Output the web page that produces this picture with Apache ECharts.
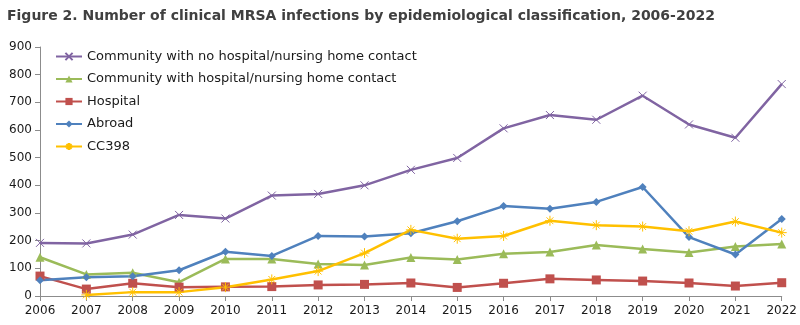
<!DOCTYPE html>
<html>
<head>
<meta charset="utf-8">
<script src="https://cdn.jsdelivr.net/npm/echarts@6/dist/echarts.min.js"></script>
<style>
  html, body { margin: 0; padding: 0; background: #fff; }
  #chart { width: 800px; height: 325px; }
</style>
</head>
<body>
<div id="chart"></div>
<script>
// Clinical MRSA infections per year, by epidemiological classification
const years = ['2006','2007','2008','2009','2010','2011','2012','2013','2014','2015','2016','2017','2018','2019','2020','2021','2022'];
const communityNoContact = [192, 190, 222, 293, 280, 363, 369, 400, 456, 499, 606, 654, 637, 724, 620, 572, 766];
const communityWithContact = [140, 78, 84, 50, 134, 134, 116, 112, 139, 132, 153, 159, 184, 170, 157, 179, 188];
const hospital = [72, 25, 46, 32, 33, 34, 40, 42, 47, 31, 46, 62, 58, 54, 47, 36, 48];
const abroad = [57, 68, 71, 93, 160, 145, 217, 215, 227, 270, 325, 315, 340, 394, 213, 150, 278];
const cc398 = [null, 4, 14, 14, 32, 60, 90, 155, 239, 207, 217, 272, 256, 251, 234, 269, 229];

const seriesNames = [
  'Community with no hospital/nursing home contact',
  'Community with hospital/nursing home contact',
  'Hospital',
  'Abroad',
  'CC398'
];

const FONT = '"DejaVu Sans", sans-serif';
const crossPath = 'path://M0,0L10,10M10,0L0,10';
const starPath = 'path://M5,0L5,10M0,5L10,5M1.6,1.6L8.4,8.4M8.4,1.6L1.6,8.4';

function lineSeries(name, data, color, symbol, size, strokeOnly) {
  return {
    name: name,
    type: 'line',
    data: data,
    symbol: symbol,
    symbolSize: size,
    showSymbol: true,
    connectNulls: false,
    lineStyle: { color: color, width: 2.5 },
    itemStyle: strokeOnly
      ? { color: color, borderColor: color, borderWidth: 1 }
      : { color: color, borderWidth: 0 },
    emphasis: { disabled: true },
    animation: false
  };
}

const chart = echarts.init(document.getElementById('chart'), null, { renderer: 'canvas' });
chart.setOption({
  backgroundColor: '#ffffff',
  title: {
    text: 'Figure 2. Number of clinical MRSA infections by epidemiological classification, 2006-2022',
    left: 2,
    top: 4,
    textStyle: { fontFamily: FONT, fontWeight: 'bold', fontSize: 14, color: '#404040' }
  },
  legend: {
    orient: 'vertical',
    left: 50,
    top: 45,
    itemWidth: 26,
    itemHeight: 9,
    itemGap: 9.5,
    textStyle: { fontFamily: FONT, fontSize: 13, color: '#1a1a1a' },
    data: seriesNames
  },
  grid: { left: 40, right: 17, top: 47, bottom: 29 },
  xAxis: {
    type: 'category',
    data: years,
    boundaryGap: false,
    axisLine: { lineStyle: { color: '#8c8c8c', width: 1 } },
    axisTick: { show: true, alignWithLabel: true, length: 5, lineStyle: { color: '#8c8c8c' } },
    axisLabel: { fontFamily: FONT, fontSize: 12, color: '#1a1a1a', margin: 9, interval: 0 },
    splitLine: { show: false }
  },
  yAxis: {
    type: 'value',
    min: 0,
    max: 900,
    interval: 100,
    axisLine: { show: true, lineStyle: { color: '#8c8c8c', width: 1 } },
    axisTick: { show: true, length: 5, lineStyle: { color: '#8c8c8c' } },
    axisLabel: { fontFamily: FONT, fontSize: 12, color: '#1a1a1a', margin: 8 },
    splitLine: { show: false }
  },
  series: [
    lineSeries(seriesNames[0], communityNoContact, '#8064A2', crossPath, 8, true),
    lineSeries(seriesNames[1], communityWithContact, '#9BBB59', 'triangle', 9, false),
    lineSeries(seriesNames[2], hospital, '#C0504D', 'rect', 9, false),
    lineSeries(seriesNames[3], abroad, '#4F81BD', 'diamond', 8, false),
    lineSeries(seriesNames[4], cc398, '#FFC000', starPath, 10, true)
  ]
});
</script>
</body>
</html>
